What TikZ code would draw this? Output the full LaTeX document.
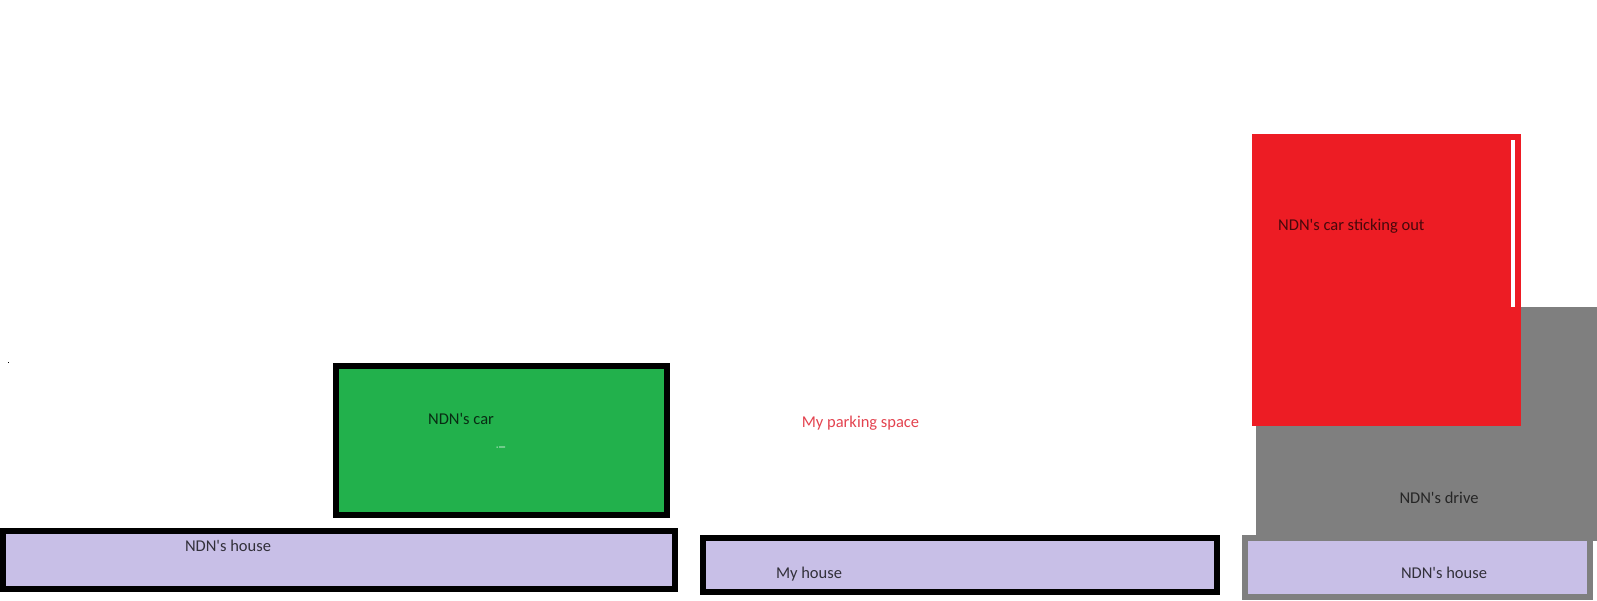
\documentclass[tikz,border=0pt]{standalone}
\usepackage{fontspec}
\setmainfont{Carlito}[Ligatures=TeXOff]

\definecolor{carGreen}{HTML}{22B14C}
\definecolor{carRed}{HTML}{ED1C24}
\definecolor{houseLilac}{HTML}{C8BFE7}
\definecolor{driveGray}{HTML}{7F7F7F}
\definecolor{parkRed}{HTML}{E3434F}

\tikzset{
  house/.style={fill=houseLilac,line width=6pt},
  lbl/.style={inner sep=0pt,font=\fontsize{16.5}{20}\selectfont},
}

\begin{document}
\begin{tikzpicture}[x=1pt,y=-1pt]
    \useasboundingbox (0,0) rectangle (1597,600);
    %% NDN's house and car
    \draw[house,draw=black] (3,531) rectangle (675,588.7);
    \node[lbl,text=black!75!houseLilac] (1) at (228,546) {NDN's house};
    \draw[line width=6pt,fill=carGreen] (336,365.6) rectangle (667,515.4);
    \node[lbl,text=black!75!carGreen] (2) at (461,418.6) {NDN's car};
    \fill[white] (496.5,446.5) rectangle (497.5,447.5) (499,446.5) rectangle (505,447.3);
    \fill[black] (7.5,361.5) rectangle (9,363);
    %% My house and my space
    \draw[house,draw=black] (702.7,537.7) rectangle (1217,591.8);
    \node[lbl,text=black!75!houseLilac] (3) at (809,574.5) {My house};
    \node[lbl,text=parkRed] (4) at (860.5,423.5) {My parking space};
    %% NDN's drive with the car sticking out
    \fill[driveGray] (1256,307) rectangle (1597,541);
    \node[lbl,text=black!70!driveGray] (5) at (1439,498) {NDN's drive};
    \draw[house,draw=driveGray] (1245,538) rectangle (1589.5,597);
    \node[lbl,text=black!75!houseLilac] (6) at (1444,573) {NDN's house};
    \fill[carRed] (1252,134) rectangle (1521,426);
    \fill[white] (1511,140) rectangle (1515,307);
    \node[lbl,text=black!70!carRed,anchor=west] (7) at (1278,226) {NDN's car sticking out};
\end{tikzpicture}
\end{document}
